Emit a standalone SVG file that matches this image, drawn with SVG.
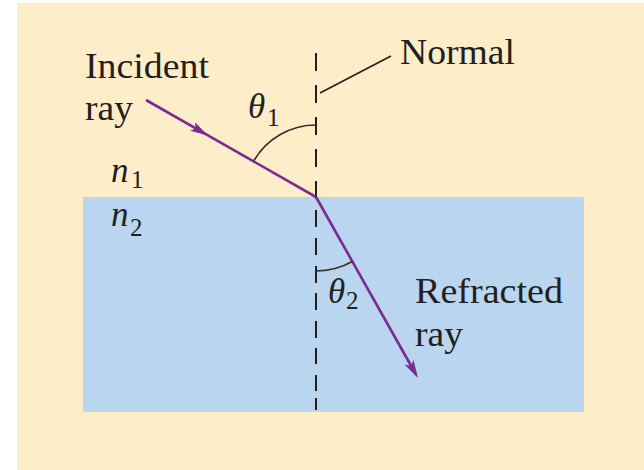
<svg xmlns="http://www.w3.org/2000/svg" width="644" height="470" viewBox="0 0 644 470">
  <style>
    .lbl { font-family: "Liberation Serif", "Times New Roman", serif; font-size: 35px; fill: #231f20; }
    .sym { font-family: "Liberation Serif", "Times New Roman", serif; font-style: italic; font-size: 35px; fill: #231f20; }
    .sub { font-family: "Liberation Serif", "Times New Roman", serif; font-size: 25px; fill: #231f20; }
    .ray { stroke: #7b2b8e; stroke-width: 2.6; fill: none; }
    .arc { stroke: #333333; stroke-width: 1.6; fill: none; }
    .normal { stroke: #231f20; stroke-width: 2; fill: none; }
  </style>
  <defs>
    <marker id="arrow" viewBox="0 0 18 10" refX="14" refY="5" markerWidth="18" markerHeight="10" markerUnits="userSpaceOnUse" orient="auto">
      <path d="M0,0 L18,5 L0,10 L4,5 z" fill="#7b2b8e"/>
    </marker>
  </defs>

  <g id="background">
    <rect x="0" y="0" width="644" height="470" fill="#ffffff"/>
    <rect x="17" y="3" width="627" height="467" fill="#feedc9"/>
  </g>

  <g id="medium2">
    <rect x="83" y="197" width="501" height="215" fill="#b9d5ef"/>
  </g>

  <g id="connectors">
    <path class="normal" d="M316,53 V71 M316,85 V103 M316,117 V135 M316,149 V167 M316,181 V199 M316,210 V227 M316,238 V255 M316,266 V283 M316,293 V310 M316,321 V338 M316,348 V364 M316,375 V391 M316,398 V410"/>
    <line x1="320" y1="93" x2="391" y2="56" stroke="#231f20" stroke-width="1.6"/>
    <line class="ray" x1="146" y1="100" x2="204.5" y2="133.4" marker-end="url(#arrow)"/>
    <line class="ray" x1="204" y1="133.1" x2="316" y2="197"/>
    <line class="ray" x1="316" y1="197" x2="416" y2="374.5" marker-end="url(#arrow)"/>
    <path class="arc" d="M253.5,161.3 A72,72 0 0 1 316,125"/>
    <path class="arc" d="M316,271 A74,74 0 0 0 352.3,261.5"/>
  </g>

  <g id="incident-label">
    <text class="lbl" x="85" y="78" textLength="124" lengthAdjust="spacingAndGlyphs">Incident</text>
    <text class="lbl" x="85" y="120" textLength="48" lengthAdjust="spacingAndGlyphs">ray</text>
  </g>

  <g id="normal-label">
    <text class="lbl" x="400" y="64" textLength="115" lengthAdjust="spacingAndGlyphs">Normal</text>
  </g>

  <g id="refracted-label">
    <text class="lbl" x="415" y="303" textLength="148" lengthAdjust="spacingAndGlyphs">Refracted</text>
    <text class="lbl" x="415" y="346" textLength="48" lengthAdjust="spacingAndGlyphs">ray</text>
  </g>

  <g id="theta1">
    <text class="sym" x="248" y="118">θ</text>
    <text class="sub" x="267" y="126">1</text>
  </g>

  <g id="theta2">
    <text class="sym" x="328" y="303">θ</text>
    <text class="sub" x="346" y="309">2</text>
  </g>

  <g id="n1">
    <text class="sym" x="111" y="182">n</text>
    <text class="sub" x="131" y="188">1</text>
  </g>

  <g id="n2">
    <text class="sym" x="111" y="226">n</text>
    <text class="sub" x="130" y="236">2</text>
  </g>
</svg>
